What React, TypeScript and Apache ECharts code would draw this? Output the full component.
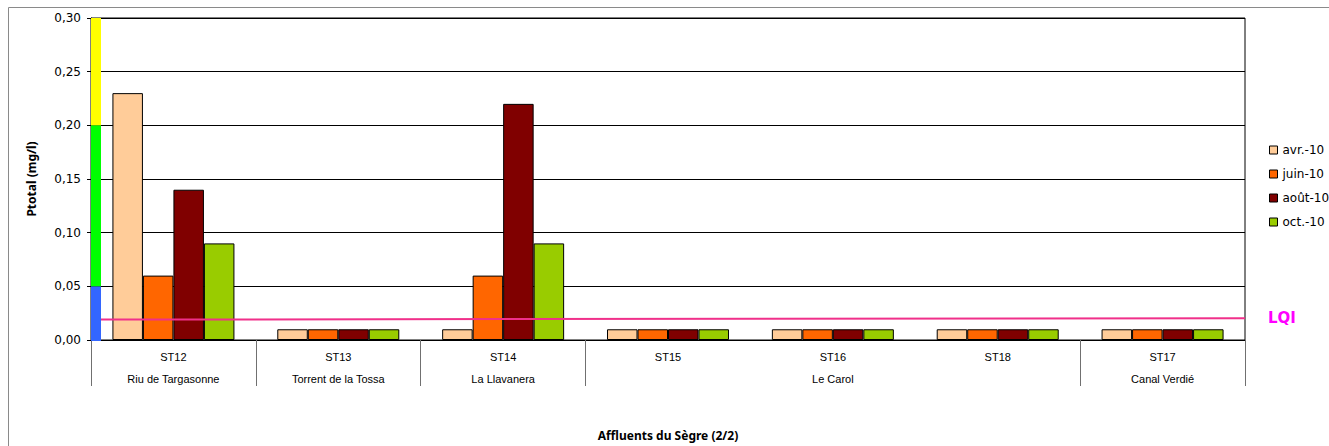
import React, { useEffect, useRef } from "react";
import * as echarts from "echarts";

// Stations and the rivers they sit on
const stations = ["ST12", "ST13", "ST14", "ST15", "ST16", "ST18", "ST17"];
const rivers = ["Riu de Targasonne", "Torrent de la Tossa", "La Llavanera", "", "Le Carol", "", "Canal Verdié"];
// indices of the stations that start a new river group (plus the closing edge)
const riverBreaks = [0, 1, 2, 3, 6];

// Total phosphorus per campaign (mg/l)
const seriesNames = ["avr.-10", "juin-10", "août-10", "oct.-10"];
const avr10 = [0.23, 0.01, 0.01, 0.01, 0.01, 0.01, 0.01];
const juin10 = [0.06, 0.01, 0.06, 0.01, 0.01, 0.01, 0.01];
const aout10 = [0.14, 0.01, 0.22, 0.01, 0.01, 0.01, 0.01];
const oct10 = [0.09, 0.01, 0.09, 0.01, 0.01, 0.01, 0.01];
const seriesColors = ["#FFCC99", "#FF6600", "#800000", "#99CC00"];

// Quality classes drawn as a colour scale along the value axis
const classLimits = [0, 0.05, 0.2, 0.3];
const classColors = ["#3366FF", "#00FF00", "#FFFF00"];

// Quantification limit line (start / end value)
const lqiValues = [0.019, 0.0203];

const fmt = (v: number) => v.toFixed(2).replace(".", ",");

export default function App() {
  const ref = useRef<HTMLDivElement>(null);

  useEffect(() => {
    if (!ref.current) return;
    const chart = echarts.init(ref.current, undefined, { renderer: "svg" });
    const values = [avr10, juin10, aout10, oct10];

    const bars = values.map((data, i) => ({
      name: seriesNames[i],
      type: "bar" as const,
      xAxisIndex: 0,
      yAxisIndex: 0,
      data,
      barGap: "0%",
      barCategoryGap: "26%",
      itemStyle: { color: seriesColors[i], borderColor: "#000", borderWidth: 1 },
      z: 2,
    }));

    const classBands = classColors.map((c, i) => [classLimits[i], classLimits[i + 1], i]);

    chart.setOption({
      animation: false,
      textStyle: { fontFamily: "DejaVu Sans, Verdana, sans-serif" },
      graphic: [
        {
          type: "rect",
          shape: { x: 8.5, y: 7.5, width: 1400, height: 500 },
          style: { fill: "none", stroke: "#8a8a8a", lineWidth: 1 },
          z: -10,
          silent: true,
        },
      ],
      grid: {
        left: 91,
        right: 84,
        top: 18,
        bottom: 104,
        show: true,
        borderColor: "#000",
        borderWidth: 1,
        backgroundColor: "transparent",
      },
      legend: {
        orient: "vertical",
        left: 1269,
        top: 143,
        padding: 0,
        itemWidth: 8,
        itemHeight: 8,
        itemGap: 10,
        icon: "rect",
        data: seriesNames.map((n) => ({ name: n, itemStyle: { borderColor: "#000", borderWidth: 1 } })),
        textStyle: { fontSize: 12, color: "#000", lineHeight: 14, fontFamily: "DejaVu Sans, Verdana, sans-serif" },
      },
      xAxis: [
        {
          type: "category",
          data: stations,
          position: "bottom",
          axisLine: { lineStyle: { color: "#000", width: 1 } },
          axisTick: { interval: 0, length: 24, lineStyle: { color: "#707070" } },
          axisLabel: {
            interval: 0,
            margin: 11,
            fontSize: 11,
            color: "#000",
            fontFamily: "Liberation Sans, Arial, sans-serif",
          },
          splitLine: { show: false },
        },
        {
          type: "category",
          data: rivers,
          position: "bottom",
          offset: 0,
          axisLine: { show: false },
          axisTick: {
            show: true,
            length: 46,
            interval: (index: number) => riverBreaks.indexOf(index) >= 0,
            lineStyle: { color: "#707070" },
          },
          axisLabel: {
            interval: 0,
            margin: 33,
            fontSize: 11,
            color: "#000",
            fontFamily: "Liberation Sans, Arial, sans-serif",
          },
          name: "Affluents du Sègre (2/2)",
          nameLocation: "middle",
          nameGap: 89,
          nameTextStyle: {
            fontSize: 12,
            fontWeight: "bold",
            color: "#000",
            fontFamily: "Noto Sans, Open Sans, sans-serif",
          },
        },
        {
          type: "value",
          min: 0,
          max: 1,
          show: false,
        },
      ],
      yAxis: {
        type: "value",
        min: 0,
        max: 0.3,
        interval: 0.05,
        axisLine: { show: true, lineStyle: { color: "#000" } },
        axisTick: { show: true, length: 4, lineStyle: { color: "#000" } },
        axisLabel: { formatter: (v: number) => fmt(v), fontSize: 12, color: "#000", margin: 10 },
        splitLine: { lineStyle: { color: "#000", width: 1 } },
        name: "Ptotal (mg/l)",
        nameLocation: "middle",
        nameGap: 54,
        nameTextStyle: {
          fontSize: 12,
          fontWeight: "bold",
          color: "#000",
          fontFamily: "Noto Sans, Open Sans, sans-serif",
        },
      },
      series: [
        ...bars,
        {
          name: "LQI",
          type: "line",
          xAxisIndex: 2,
          yAxisIndex: 0,
          data: [
            [0, lqiValues[0]],
            [1, lqiValues[1]],
          ],
          symbol: "none",
          lineStyle: { color: "#F0308A", width: 2 },
          endLabel: {
            show: true,
            formatter: "LQI",
            distance: 23,
            color: "#FF00FF",
            fontWeight: "bold",
            fontSize: 15,
            fontFamily: "DejaVu Sans, Verdana, sans-serif",
          },
          z: 5,
        },
        {
          name: "classes",
          type: "custom",
          xAxisIndex: 0,
          yAxisIndex: 0,
          data: classBands,
          renderItem: (params: any, api: any) => {
            const lo = api.value(0);
            const hi = api.value(1);
            const idx = api.value(2);
            const y0 = api.coord([0, lo])[1];
            const y1 = api.coord([0, hi])[1];
            const x = params.coordSys.x;
            return {
              type: "rect",
              shape: { x: x, y: y1, width: 10, height: y0 - y1 + (lo === 0 ? 1 : 0) },
              style: { fill: classColors[idx] },
            };
          },
          silent: true,
          z: 10,
        },
      ],
    });

    return () => chart.dispose();
  }, []);

  return (
    <div
      ref={ref}
      style={{ position: "fixed", left: 0, top: 0, width: 1329, height: 446, background: "#fff" }}
    />
  );
}
